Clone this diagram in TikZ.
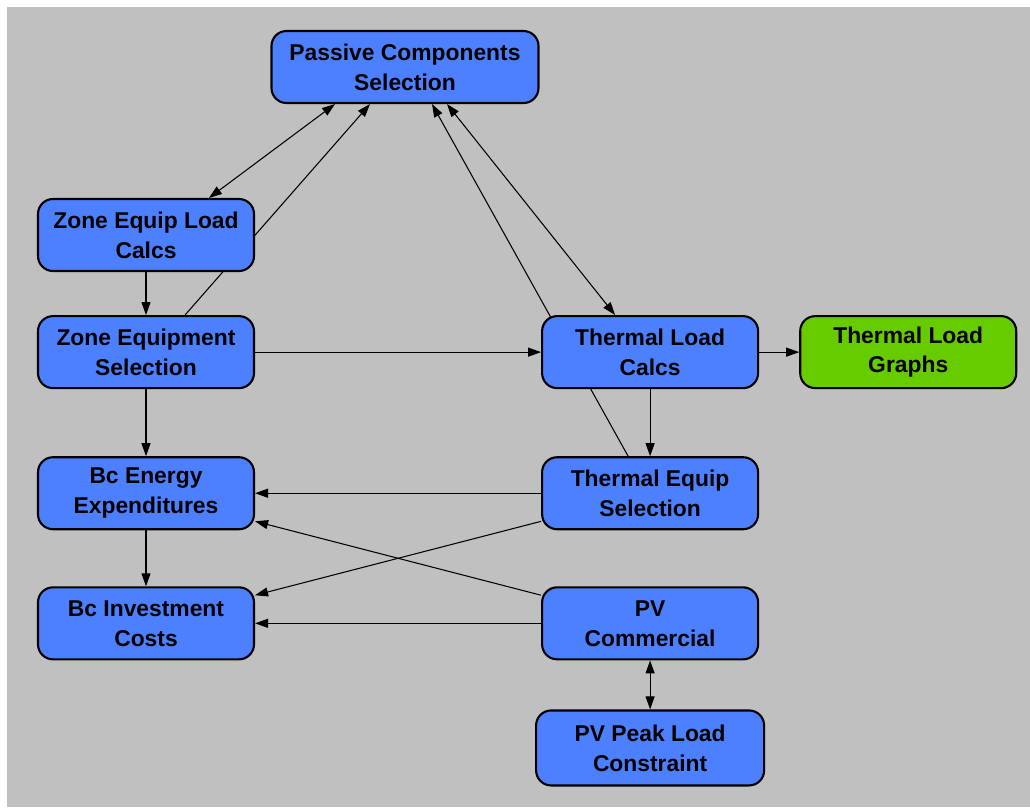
\documentclass[tikz,border=0pt]{standalone}
\usepackage{fontspec}
\setmainfont{Liberation Sans}
\usetikzlibrary{arrows.meta,calc,positioning}
\definecolor{modblue}{RGB}{77,128,255}
\definecolor{modgreen}{RGB}{102,204,0}
\definecolor{panelgray}{RGB}{192,192,192}
\pgfdeclarelayer{panellayer}
\pgfdeclarelayer{linklayer}
\pgfsetlayers{panellayer,linklayer,main}
\tikzset{>={Triangle[length=0.26cm,width=0.18cm]},
         module/.style={draw=black, line width=1.2pt, fill=modblue,
           rounded corners=0.3cm, minimum width=4.32cm, minimum height=1.44cm,
           align=center, inner sep=2pt,
           font=\fontsize{13}{17}\selectfont\bfseries},
         link/.style={->, line width=0.6pt}}

\begin{document}
\begin{tikzpicture}
	  % modules
	  \node[module, minimum width=5.34cm] (pcs) at (8.1,-1.34)
	    {Passive Components\\Selection};
	  \node[module] (zelc) at (2.92,-4.70) {Zone Equip Load\\Calcs};
	  \node[module] (zes) [below=0.86cm of zelc] {Zone Equipment\\Selection};
	  \node[module] (bee) [below=1.34cm of zes] {Bc Energy\\Expenditures};
	  \node[module] (bic) [below=1.12cm of bee] {Bc Investment\\Costs};
	  \node[module] (tlc) [right=5.72cm of zes] {Thermal Load\\Calcs};
	  \node[module, fill=modgreen] (tlg) [right=0.80cm of tlc] {Thermal Load\\Graphs};
	  \node[module] (tes) [below=1.34cm of tlc] {Thermal Equip\\Selection};
	  \node[module] (pvc) [below=1.12cm of tes] {PV\\Commercial};
	  \node[module, minimum width=4.56cm, minimum height=1.50cm] (pvp)
	    [below=0.98cm of pvc] {PV Peak Load\\Constraint};

	  % links, under the modules
	  \begin{pgfonlayer}{linklayer}
	    \draw[link,<->] ($(zelc.north)+(1.26,0)$) -- ($(pcs.south)+(-1.4,0)$);
	    \draw[link] ($(zes.north)+(0.78,0)$) -- ($(pcs.south)+(-0.7,0)$);
	    \draw[link] ($(tes.north)+(-0.44,0)$) -- ($(pcs.south)+(0.54,0)$);
	    \draw[link,<->] ($(pcs.south)+(0.84,0)$) -- ($(tlc.north)+(-0.7,0)$);
	    \draw[link] (zelc) -- (zes);
	    \draw[link] (zes) -- (tlc);
	    \draw[link] (tlc) -- (tlg);
	    \draw[link] (tlc) -- (tes);
	    \draw[link] (zes) -- (bee);
	    \draw[link] (tes) -- (bee);
	    \draw[link] (tes) -- (bic);
	    \draw[link] (pvc) -- (bee);
	    \draw[link] (bee) -- (bic);
	    \draw[link] (pvc) -- (bic);
	    \draw[link,<->] (pvc) -- (pvp);
	  \end{pgfonlayer}

	  % panel
	  \begin{pgfonlayer}{panellayer}
	    \fill[white] (0,0) rectangle (20.6,-16.18);
	    \fill[panelgray] (0.14,-0.14) rectangle (20.6,-16.14);
	  \end{pgfonlayer}
	  \useasboundingbox (0,0) rectangle (20.6,-16.18);
	\end{tikzpicture}
\end{document}
